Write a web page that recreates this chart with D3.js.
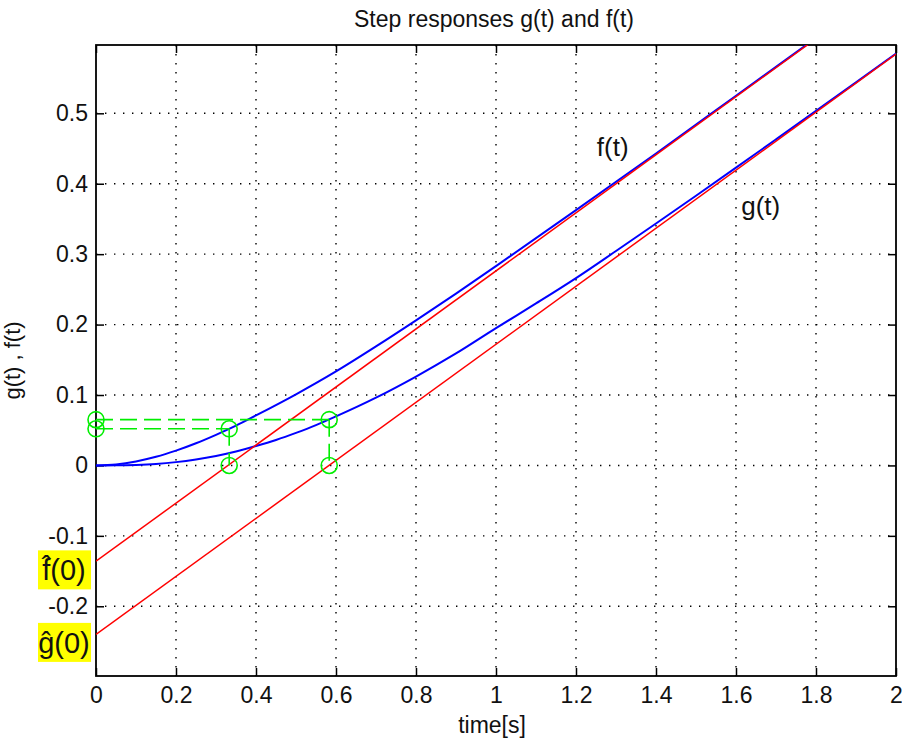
<!DOCTYPE html>
<html>
<head>
<meta charset="utf-8">
<script src="https://cdn.jsdelivr.net/npm/d3@7"></script>
<style>
  body { margin: 0; background: #fff; }
  text { font-family: "Liberation Sans", Arial, sans-serif; }
</style>
</head>
<body>
<svg id="chart" width="902" height="744"></svg>
<script>
// step responses
const fT   = [0, 0.05, 0.1, 0.15, 0.2, 0.25, 0.3, 0.35, 0.4, 0.5, 0.6, 0.7, 0.8, 0.9, 1.0, 1.2, 1.4, 1.6, 1.8];
const fVal = [0, 0.0015, 0.0057, 0.0122, 0.021, 0.0315, 0.0435, 0.0565, 0.071, 0.101, 0.1335, 0.169, 0.206, 0.244, 0.283, 0.3625, 0.443, 0.525, 0.607];

const gT   = [0, 0.05, 0.1, 0.15, 0.2, 0.25, 0.3, 0.35, 0.4, 0.45, 0.5, 0.55, 0.6, 0.7, 0.8, 0.9, 1.0, 1.1, 1.2, 1.3, 1.4, 1.5, 1.6, 1.7, 1.8, 1.9, 2.0];
const gVal = [0, 0.0001, 0.0007, 0.0021, 0.0047, 0.0085, 0.0135, 0.0198, 0.0276, 0.0362, 0.0462, 0.0572, 0.0696, 0.0962, 0.1262, 0.159, 0.195, 0.23, 0.266, 0.3045, 0.3435, 0.383, 0.4228, 0.463, 0.5034, 0.544, 0.5848];

// asymptotes (red)
const fAsymT = [0, 1.8];
const fAsymV = [-0.136, 0.606];
const gAsymT = [0, 2];
const gAsymV = [-0.240, 0.584];

// green construction marks
const markT = [0.333, 0.583];
const markY = [0.052, 0.065];

const xTicks = [0, 0.2, 0.4, 0.6, 0.8, 1, 1.2, 1.4, 1.6, 1.8, 2];
const yTicks = [-0.2, -0.1, 0, 0.1, 0.2, 0.3, 0.4, 0.5];

const svg = d3.select("#chart");
const L = 96, R = 896, T = 45, B = 676;

const x = d3.scaleLinear().domain([0, 2]).range([L, R]);
const y = d3.scaleLinear().domain([-0.299, 0.597]).range([B, T]);

svg.append("defs").append("clipPath").attr("id", "clip")
    .append("rect").attr("x", L).attr("y", T).attr("width", R - L).attr("height", B - T);

// grid
const grid = svg.append("g").attr("stroke", "#000").attr("stroke-width", 1.4)
    .attr("stroke-dasharray", "1.4 7.6");
grid.selectAll("line.gx").data(xTicks.slice(1, -1)).join("line")
    .attr("x1", d => x(d)).attr("x2", d => x(d)).attr("y1", T).attr("y2", B);
grid.selectAll("line.gy").data(yTicks).join("line")
    .attr("y1", d => y(d)).attr("y2", d => y(d)).attr("x1", L).attr("x2", R);

// axes: ticks inside on all sides
const tickLen = 8;
const fmt = d => String(d);
svg.append("g").attr("transform", `translate(0,${B})`)
    .call(d3.axisBottom(x).tickValues(xTicks).tickSizeInner(-tickLen).tickSizeOuter(0).tickPadding(11)
        .tickFormat(fmt))
    .call(g => g.select(".domain").remove());
svg.append("g").attr("transform", `translate(0,${T})`)
    .call(d3.axisTop(x).tickValues(xTicks).tickSizeInner(-tickLen).tickSizeOuter(0).tickFormat(""))
    .call(g => g.select(".domain").remove());
svg.append("g").attr("transform", `translate(${L},0)`)
    .call(d3.axisLeft(y).tickValues(yTicks).tickSizeInner(-tickLen).tickSizeOuter(0).tickPadding(8)
        .tickFormat(fmt))
    .call(g => g.select(".domain").remove());
svg.append("g").attr("transform", `translate(${R},0)`)
    .call(d3.axisRight(y).tickValues(yTicks).tickSizeInner(-tickLen).tickSizeOuter(0).tickFormat(""))
    .call(g => g.select(".domain").remove());

svg.selectAll(".tick line").attr("stroke", "#000").attr("stroke-width", 1.5);
svg.selectAll(".tick text").style("font-size", "23px").attr("fill", "#111");

svg.append("rect").attr("x", L).attr("y", T).attr("width", R - L).attr("height", B - T)
    .attr("fill", "none").attr("stroke", "#000").attr("stroke-width", 1.8);

// curves
const plot = svg.append("g").attr("clip-path", "url(#clip)");
const line = d3.line().x(d => x(d[0])).y(d => y(d[1])).curve(d3.curveMonotoneX);

plot.append("path").datum(d3.zip(fT, fVal)).attr("d", line)
    .attr("fill", "none").attr("stroke", "#0000ff").attr("stroke-width", 2);
plot.append("path").datum(d3.zip(gT, gVal)).attr("d", line)
    .attr("fill", "none").attr("stroke", "#0000ff").attr("stroke-width", 2);
plot.append("path").datum(d3.zip(fAsymT, fAsymV)).attr("d", line)
    .attr("fill", "none").attr("stroke", "#ff0000").attr("stroke-width", 1.5);
plot.append("path").datum(d3.zip(gAsymT, gAsymV)).attr("d", line)
    .attr("fill", "none").attr("stroke", "#ff0000").attr("stroke-width", 1.5);

// green construction
const green = svg.append("g").attr("stroke", "#00ee00").attr("stroke-width", 1.6).attr("fill", "none");
markT.forEach((t, i) => {
    green.append("line").attr("x1", x(0)).attr("x2", x(t)).attr("y1", y(markY[i])).attr("y2", y(markY[i]))
        .attr("stroke-dasharray", "17 7");
    green.append("line").attr("x1", x(t)).attr("x2", x(t)).attr("y1", y(markY[i])).attr("y2", y(0))
        .attr("stroke-dasharray", "17 7");
    [[0, markY[i]], [t, markY[i]], [t, 0]].forEach(p => {
        green.append("circle").attr("cx", x(p[0])).attr("cy", y(p[1])).attr("r", 8);
    });
});

// annotations
svg.append("text").attr("x", x(1.252)).attr("y", y(0.44)).text("f(t)").style("font-size", "26px").attr("fill", "#111");
svg.append("text").attr("x", x(1.613)).attr("y", y(0.355)).text("g(t)").style("font-size", "26px").attr("fill", "#111");

// hat labels with yellow background
[["f\u0302(0)", -0.149], ["\u011D(0)", -0.252]].forEach(([s, v]) => {
    const t = svg.append("text").attr("x", 64).attr("y", y(v) + 10).attr("text-anchor", "middle")
        .text(s).style("font-size", "29px").attr("fill", "#111");
    const bb = t.node().getBBox();
    svg.insert("rect", () => t.node()).attr("x", 38).attr("y", bb.y - 4)
        .attr("width", 53).attr("height", bb.height + 7).attr("fill", "#ffff00");
});

// titles
svg.append("text").attr("x", (L + R) / 2 - 2).attr("y", 27).attr("text-anchor", "middle")
    .text("Step responses g(t) and f(t)").style("font-size", "23px").attr("fill", "#111");
svg.append("text").attr("x", (L + R) / 2 - 4).attr("y", 733).attr("text-anchor", "middle")
    .text("time[s]").style("font-size", "23px").attr("fill", "#111");
svg.append("text").attr("transform", `translate(20,${(T + B) / 2}) rotate(-90)`).attr("text-anchor", "middle")
    .text("g(t) , f(t)").style("font-size", "22px").attr("fill", "#111");
</script>
</body>
</html>
